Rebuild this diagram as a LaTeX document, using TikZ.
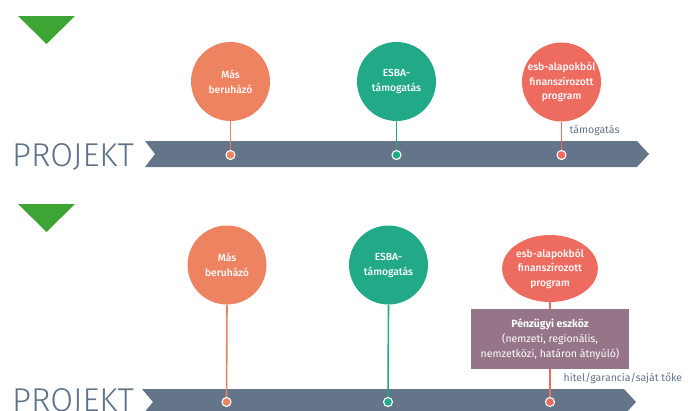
\documentclass[tikz,border=0pt]{standalone}
\usepackage{fontspec}
\setmainfont{Fira Sans}
\newfontfamily\projfont{Fira Sans Light}
\newfontfamily\medfont{Fira Sans Medium}
\usetikzlibrary{shapes.geometric}
\definecolor{barcol}{HTML}{647589}
\definecolor{projcol}{HTML}{5F7389}
\definecolor{greentri}{HTML}{3EA534}
\definecolor{orangec}{HTML}{EE8361}
\definecolor{tealc}{HTML}{21A988}
\definecolor{redc}{HTML}{EE6B60}
\definecolor{mauve}{HTML}{957587}
\begin{document}
\begin{tikzpicture}[x=1pt,y=-1pt,
  bubble/.style={circle, minimum size=79pt, inner sep=0pt, text=white, align=center,
    font=\medfont\fontsize{10.3}{15}\selectfont},
  dotnode/.style={circle, minimum size=9pt, inner sep=0pt, draw=white, line width=1.1pt},
  stem/.style={line width=1.6pt},
  lbl/.style={text=barcol, inner sep=0pt, font=\fontsize{10.5}{12}\selectfont},
  proj/.style={text=projcol, inner sep=0pt, font=\projfont\fontsize{33}{33}\selectfont}
]
\useasboundingbox (0,0) rectangle (688,410);
\clip (0,0) rectangle (688,410);

% ---------- top part ----------
\fill[greentri] (18,16) -- (75,16) -- (46.5,44) -- cycle;
\node[proj, anchor=base west] (p1) at (12,166) {PROJEKT};
\fill[barcol] (145,141) -- (637,141) -- (649,154) -- (637,167) -- (145,167) -- (155,154) -- cycle;

\node[bubble, fill=orangec] (a1) at (230.5,81.5) {Más\\beruházó};
\node[bubble, fill=tealc] (b1) at (396.5,81.5) {ESBA-\\támogatás};
\node[bubble, fill=redc, font=\medfont\fontsize{10.3}{14.5}\selectfont] (c1) at (561.5,82) {esb-alapokból\\finanszírozott\\program};

\coordinate (ad1) at (230.5,155);
\coordinate (bd1) at (396.5,155);
\coordinate (cd1) at (561.5,155);
\draw[stem, orangec] (a1.south) -- (ad1);
\draw[stem, tealc] (b1.south) -- (bd1);
\draw[stem, redc] (c1.south) -- (cd1);
\node[dotnode, fill=orangec] (ad1n) at (ad1) {};
\node[dotnode, fill=tealc] (bd1n) at (bd1) {};
\node[dotnode, fill=redc] (cd1n) at (cd1) {};

\node[lbl, anchor=west] (t1) at (569.5,130) {támogatás};

% ---------- bottom part ----------
\fill[greentri] (18,204) -- (75,204) -- (46.5,232) -- cycle;
\node[proj, anchor=base west] (p2) at (12,411) {PROJEKT};
\fill[barcol] (142,389) -- (624,389) -- (636,402) -- (624,415) -- (142,415) -- (153,402) -- cycle;

\node[bubble, fill=orangec] (a2) at (227,265) {Más\\beruházó};
\node[bubble, fill=tealc] (b2) at (388.5,265) {ESBA-\\támogatás};
\node[ellipse, minimum width=80pt, minimum height=67pt, inner sep=0pt, text=white, align=center,
  font=\medfont\fontsize{10.3}{14.5}\selectfont, fill=redc] (c2) at (550,268.5) {esb-alapokból\\finanszírozott\\program};

\coordinate (ad2) at (226.5,402);
\coordinate (bd2) at (388,402);
\coordinate (cd2) at (550,402);
\draw[stem, orangec] (a2.south) -- (ad2);
\draw[stem, tealc] (b2.south) -- (bd2);
\draw[stem, redc] (c2.south) -- (cd2);
\node[dotnode, fill=orangec] (ad2n) at (ad2) {};
\node[dotnode, fill=tealc] (bd2n) at (bd2) {};
\node[dotnode, fill=redc] (cd2n) at (cd2) {};

\node[rectangle, fill=mauve, minimum width=158pt, minimum height=60pt, inner sep=0pt,
  text=white, align=center, font=\fontsize{10.5}{15}\selectfont] (box) at (550,339)
  {\textbf{Pénzügyi eszköz}\\(nemzeti, regionális,\\nemzetközi, határon átnyúló)};

\node[lbl, anchor=west] (t2) at (563.5,378) {hitel/garancia/saját tőke};
\end{tikzpicture}
\end{document}
